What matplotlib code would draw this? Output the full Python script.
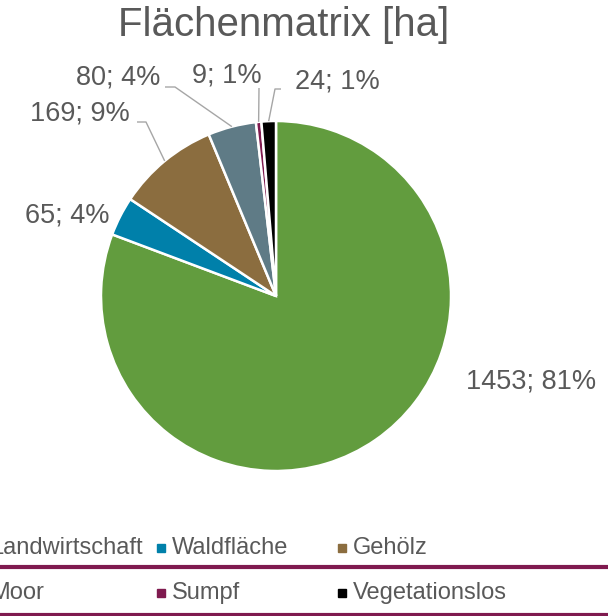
import math
import matplotlib.pyplot as plt
from matplotlib.patches import Rectangle

plt.rcParams['font.family'] = ['Liberation Sans', 'DejaVu Sans']

# Daten
categories = ['Landwirtschaft', 'Waldfläche', 'Gehölz', 'Moor', 'Sumpf', 'Vegetationslos']
areas_ha = [1453, 65, 169, 80, 9, 24]
colors = ['#629C3E', '#0080AA', '#8B6D3F', '#5F7B86', '#7F1A4F', '#000000']
title = 'Flächenmatrix [ha]'

W, H = 608, 616
text_color = '#595959'

fig = plt.figure(figsize=(W / 100, H / 100), dpi=100)
ax = fig.add_axes([0, 0, 1, 1])

# Kreis in Pixelkoordinaten (y von unten)
cx, cy, r = 276, H - 296, 175
ax.pie(areas_ha, colors=colors, startangle=90, counterclock=False,
       center=(cx, cy), radius=r, frame=True,
       wedgeprops=dict(edgecolor='white', linewidth=1.8))
ax.set_xlim(0, W)
ax.set_ylim(0, H)
ax.set_aspect('auto')
ax.axis('off')

# Beschriftungen: Textmitte und Knickpunkt der Führungslinie (None = keine Linie)
label_pos = [(531, 381), (67, 216), (80, 113), (118, 78), (227, 75), (337, 82)]
elbows = [None, None, [(137, 122), (146, 122)], [(165, 87), (175, 87)],
          [(259, 88)], [(281, 89), (275, 89)]]

total = sum(areas_ha)
cum = 0
for v, (tx, ty), elb in zip(areas_ha, label_pos, elbows):
    mid = (cum + v / 2) / total
    cum += v
    ang = math.radians(90 - mid * 360)
    pct = math.floor(v * 100 / total + 0.5)
    ax.text(tx, H - ty, f'{v}; {pct}%', fontsize=19.5, color=text_color,
            ha='center', va='center')
    if elb is not None:
        ex = cx + r * math.cos(ang)
        ey = cy + r * math.sin(ang)
        xs = [p[0] for p in elb] + [ex]
        ys = [H - p[1] for p in elb] + [ey]
        ax.plot(xs, ys, color='#A6A6A6', lw=1.0, solid_capstyle='butt')

ax.text(284, H - 25, title, fontsize=29, color=text_color, ha='center', va='center')

# Legende (3 Spalten, erste Spalte links abgeschnitten)
col_x = [-10, 172, 353]
row_y = [548, 593]
for i, (name, c) in enumerate(zip(categories, colors)):
    x = col_x[i % 3]
    y = H - row_y[i // 3]
    ax.add_patch(Rectangle((x - 15, y - 4), 8, 8, color=c, clip_on=False))
    ax.text(x, y, name, fontsize=17, color=text_color, ha='left', va='center')

for ly in [566.5, 614.5]:
    ax.plot([0, W], [H - ly, H - ly], color='#7F1A4F', lw=3.0)

fig.savefig('out.png', dpi=100)
